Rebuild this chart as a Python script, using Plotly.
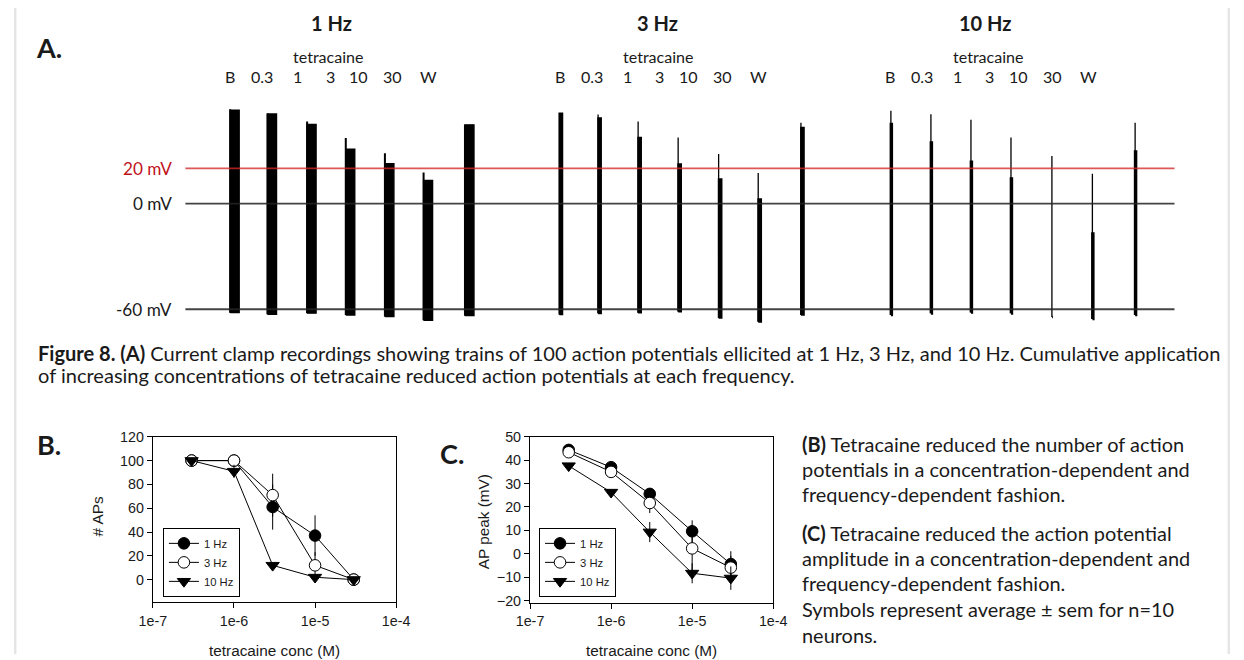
import plotly.graph_objects as go

W, H = 1244, 660
# The returned picture is the page shrunk by S and centred with a thin white margin;
# layout positions below are given in picture pixels and mapped back to page space.
S, OX, OY = 0.978, 13.7, 7.25


def px(x):
    return (x - OX) / S / W


def py(y):
    return 1 - (y - OY) / S / H


def fs(size):
    return size / S


# ---------------- Panel A data (current-clamp trains) ----------------
freq_titles = ["1 Hz", "3 Hz", "10 Hz"]
conc_labels = ["B", "0.3", "1", "3", "10", "30", "W"]
train_duration_s = [100, 100 / 3, 10]          # 100 APs at 1, 3, 10 Hz

start_1hz = [500, 915, 1355, 1785, 2220, 2650, 3110]
start_3hz = [4160, 4590, 5035, 5480, 5930, 6370, 6845]
start_10hz = [7845, 8290, 8735, 9180, 9635, 10085, 10560]

first_peak_1hz = [53.6, 51.1, 46.6, 37.3, 28.6, 17.6, 42.5]
late_peak_1hz = [53.0, 50.9, 45.0, 30.9, 22.7, 13.2, 44.7]
trough_1hz = [-61.9, -62.8, -62.2, -63.2, -64.1, -66.2, -63.6]

first_peak_3hz = [51.5, 50.6, 46.6, 37.5, 28.1, 17.4, 45.9]
late_peak_3hz = [51.3, 48.6, 37.5, 22.4, 13.9, 2.5, 43.2]
trough_3hz = [-62.9, -62.3, -61.9, -61.3, -64.9, -67.1, -63.2]

first_peak_10hz = [52.7, 50.8, 47.6, 37.6, 27.0, 16.9, 45.9]
late_peak_10hz = [45.1, 34.7, 23.7, 14.2, -64.4, -17.0, 29.6]
trough_10hz = [-63.2, -62.3, -61.8, -62.3, -64.4, -65.5, -63.2]

ref_levels_mv = [20, 0, -60]
ref_labels = ["20 mV", "0 mV", "-60 mV"]

# ---------------- Panels B / C data ----------------
conc_M = [3e-7, 1e-6, 3e-6, 1e-5, 3e-5]
series_names = ["1 Hz", "3 Hz", "10 Hz"]

aps_1hz = [100, 100, 61, 37, 0]
aps_3hz = [100, 100, 71, 12, 0]
aps_10hz = [100, 91, 12, 2, 0]
aps_sem_1hz = [0, 0, 19, 17, 0]
aps_sem_3hz = [0, 0, 18, 11, 0]
aps_sem_10hz = [0, 5.5, 2, 1.5, 0]

peak_1hz = [44.4, 37.0, 25.6, 9.6, -4.4]
peak_3hz = [43.4, 35.0, 21.7, 2.3, -5.9]
peak_10hz = [37.6, 26.3, 9.3, -8.3, -10.4]
peak_sem_1hz = [1.0, 1.2, 2.5, 4.7, 5.5]
peak_sem_3hz = [1.0, 1.5, 4.3, 10.0, 5.0]
peak_sem_10hz = [1.0, 1.2, 4.3, 4.3, 5.0]

x_tick_vals = [1e-7, 1e-6, 1e-5, 1e-4]
x_tick_text = ["1e-7", "1e-6", "1e-5", "1e-4"]

caption_lines = [
    "<b>Figure 8. (A)</b> Current clamp recordings showing trains of 100 action potentials ellicited at 1 Hz, 3 Hz, and 10 Hz. Cumulative application",
    "of increasing concentrations of tetracaine reduced action potentials at each frequency.",
]
side_text_lines = [
    "<b>(B)</b> Tetracaine reduced the number of action",
    "potentials in a concentration-dependent and",
    "frequency-dependent fashion.",
    "<b>(C)</b> Tetracaine reduced the action potential",
    "amplitude in a concentration-dependent and",
    "frequency-dependent fashion.",
    "Symbols represent average \u00b1 sem for n=10",
    "neurons.",
]

# ---------------- styles ----------------
TXT_FONT = "Lato"
PLOT_FONT = "Liberation Sans, Arial"
INK = "#1a1a1a"
fig = go.Figure()

# ---- Panel A: sustained part of each train as a filled block, first spike as a thin line ----
groups = [
    (start_1hz, first_peak_1hz, late_peak_1hz, trough_1hz, train_duration_s[0], 1.4, 2.0),
    (start_3hz, first_peak_3hz, late_peak_3hz, trough_3hz, train_duration_s[1], 1.7, 1.3),
    (start_10hz, first_peak_10hz, late_peak_10hz, trough_10hz, train_duration_s[2], 2.6, 1.3),
]
for starts, fp, lp, tr, dur, lw_block, lw_spike in groups:
    bx, by, sx, sy = [], [], [], []
    for t0, a, b, c in zip(starts, fp, lp, tr):
        t1 = t0 + dur
        bx += [t0, t0, t1, t1, t0, None]
        by += [c, b, b, c, c, None]
        sx += [t0, t0, None]
        sy += [c, max(a, b), None]
    fig.add_trace(go.Scatter(
        x=bx, y=by, mode="lines", fill="toself", fillcolor="black",
        line=dict(color="black", width=lw_block), xaxis="x", yaxis="y",
        showlegend=False, hoverinfo="skip"))
    fig.add_trace(go.Scatter(
        x=sx, y=sy, mode="lines", line=dict(color="black", width=lw_spike),
        xaxis="x", yaxis="y", showlegend=False, hoverinfo="skip"))

x_end = 11000
ref_colors = ["rgba(210,40,40,0.78)", "rgba(35,35,35,0.85)", "rgba(35,35,35,0.85)"]
for lvl, col in zip(ref_levels_mv, ref_colors):
    fig.add_trace(go.Scatter(
        x=[0, x_end], y=[lvl, lvl], mode="lines",
        line=dict(color=col, width=1.9), xaxis="x", yaxis="y",
        showlegend=False, hoverinfo="skip"))

# ---- Panels B and C ----
msize = fs(11.3)
marker_styles = [
    dict(symbol="circle", color="black", size=msize, line=dict(color="black", width=1)),
    dict(symbol="circle", color="white", size=msize, line=dict(color="black", width=1)),
    dict(symbol="triangle-down", color="black", size=msize, line=dict(color="black", width=1)),
]
b_series = [aps_1hz, aps_3hz, aps_10hz]
b_sems = [aps_sem_1hz, aps_sem_3hz, aps_sem_10hz]
c_series = [peak_1hz, peak_3hz, peak_10hz]
c_sems = [peak_sem_1hz, peak_sem_3hz, peak_sem_10hz]

for name, vals, sem, mk in zip(series_names, b_series, b_sems, marker_styles):
    fig.add_trace(go.Scatter(
        x=conc_M, y=vals, name=name, mode="lines+markers",
        line=dict(color="black", width=1), marker=mk,
        error_y=dict(type="data", array=sem, color="black", thickness=1, width=0),
        xaxis="x2", yaxis="y2", legend="legend"))
for name, vals, sem, mk in zip(series_names, c_series, c_sems, marker_styles):
    fig.add_trace(go.Scatter(
        x=conc_M, y=vals, name=name, mode="lines+markers",
        line=dict(color="black", width=1), marker=mk,
        error_y=dict(type="data", array=sem, color="black", thickness=1, width=0),
        xaxis="x3", yaxis="y3", legend="legend2"))

# ---------------- annotations ----------------
ann = []
for letter, (lx, ly) in zip(["A.", "B.", "C."], [(49, 47), (49, 443), (452, 452)]):
    ann.append(dict(text=f"<b>{letter}</b>", x=px(lx), y=py(ly), xref="paper", yref="paper",
                    showarrow=False, xanchor="center", yanchor="middle",
                    font=dict(family=TXT_FONT, size=fs(26.5), color=INK)))

group_centers_px = [328.3, 658.3, 988.3]
title_centers_px = [331, 657.7, 985.5]
label_offsets_px = [-98, -66, -31, 1.7, 30, 64, 100.5]
for title, gc, tc in zip(freq_titles, group_centers_px, title_centers_px):
    ann.append(dict(text=f"<b>{title}</b>", x=px(tc), y=py(22), xref="paper", yref="paper",
                    showarrow=False, xanchor="center", yanchor="middle",
                    font=dict(family=TXT_FONT, size=fs(19.6), color=INK)))
    ann.append(dict(text="tetracaine", x=px(gc), y=py(56), xref="paper", yref="paper",
                    showarrow=False, xanchor="center", yanchor="middle",
                    font=dict(family=TXT_FONT, size=fs(15.7), color=INK)))
    for lab, off in zip(conc_labels, label_offsets_px):
        ann.append(dict(text=lab, x=px(gc + off), y=py(76), xref="paper", yref="paper",
                        showarrow=False, xanchor="center", yanchor="middle",
                        font=dict(family=TXT_FONT, size=fs(15.7), color=INK)))

ref_text_colors = ["#c0141c", INK, INK]
for lvl, lab, col in zip(ref_levels_mv, ref_labels, ref_text_colors):
    ann.append(dict(text=lab, x=px(174), y=lvl, xref="paper", yref="y",
                    showarrow=False, xanchor="right", yanchor="middle",
                    font=dict(family=TXT_FONT, size=fs(16.8), color=col)))

caption_y = [352, 374]
for line, yy in zip(caption_lines, caption_y):
    ann.append(dict(text=line, x=px(36), y=py(yy), xref="paper", yref="paper",
                    showarrow=False, xanchor="left", yanchor="middle", align="left",
                    font=dict(family=TXT_FONT, size=fs(19.6), color=INK)))

side_y = [443, 468, 493, 532, 557, 582, 608, 634]
for line, yy in zip(side_text_lines, side_y):
    ann.append(dict(text=line, x=px(800), y=py(yy), xref="paper", yref="paper",
                    showarrow=False, xanchor="left", yanchor="middle", align="left",
                    font=dict(family=TXT_FONT, size=fs(19.5), color=INK)))

ann.append(dict(text="# APs", x=px(97), y=py(515), xref="paper", yref="paper", textangle=-90,
                showarrow=False, xanchor="center", yanchor="middle",
                font=dict(family=PLOT_FONT, size=fs(15), color=INK)))
ann.append(dict(text="AP peak (mV)", x=px(483), y=py(521), xref="paper", yref="paper", textangle=-90,
                showarrow=False, xanchor="center", yanchor="middle",
                font=dict(family=PLOT_FONT, size=fs(15), color=INK)))
for cx in [274.5, 651.5]:
    ann.append(dict(text="tetracaine conc (M)", x=px(cx), y=py(649), xref="paper", yref="paper",
                    showarrow=False, xanchor="center", yanchor="middle",
                    font=dict(family=PLOT_FONT, size=fs(15), color=INK)))

shapes = [
    dict(type="rect", xref="paper", yref="paper", x0=0, x1=max(px(15), 0.002), y0=0, y1=1,
         fillcolor="#e5e5e5", line=dict(width=0), layer="below"),
    dict(type="rect", xref="paper", yref="paper", x0=min(px(1234), 0.998), x1=1, y0=0, y1=1,
         fillcolor="#e5e5e5", line=dict(width=0), layer="below"),
]

common_x = dict(type="log", range=[-7, -4], tickvals=x_tick_vals, ticktext=x_tick_text,
                showgrid=False, zeroline=False, showline=True, linecolor="black", linewidth=1,
                mirror=True, ticks="outside", ticklen=fs(5), tickcolor="black",
                tickfont=dict(family=PLOT_FONT, size=fs(14), color=INK))
common_y = dict(showgrid=False, zeroline=False, showline=True, linecolor="black", linewidth=1,
                mirror=True, ticks="outside", ticklen=fs(5), tickcolor="black",
                tickfont=dict(family=PLOT_FONT, size=fs(14), color=INK))

legend_style = dict(bgcolor="white", bordercolor="black", borderwidth=1,
                    font=dict(family=PLOT_FONT, size=fs(11), color=INK),
                    xanchor="left", yanchor="top", itemwidth=30, tracegroupgap=0)

fig.update_layout(
    width=W, height=H, margin=dict(l=0, r=0, t=0, b=0),
    paper_bgcolor="white", plot_bgcolor="rgba(0,0,0,0)",
    xaxis=dict(domain=[px(185), px(1175)], range=[0, x_end], visible=False),
    yaxis=dict(domain=[py(325.9), py(97.1)], range=[-70, 60], visible=False),
    xaxis2=dict(domain=[px(152.7), px(396)], anchor="y2", **common_x),
    yaxis2=dict(domain=[py(601), py(435.7)], anchor="x2", range=[-19, 120],
                tickvals=[0, 20, 40, 60, 80, 100, 120], **common_y),
    xaxis3=dict(domain=[px(530), px(773.3)], anchor="y3", **common_x),
    yaxis3=dict(domain=[py(601.7), py(435.7)], anchor="x3", range=[-21, 50],
                tickvals=[-20, -10, 0, 10, 20, 30, 40, 50], **common_y),
    legend=dict(x=px(162.7), y=py(526.7), **legend_style),
    legend2=dict(x=px(539), y=py(526.7), **legend_style),
    annotations=ann, shapes=shapes, showlegend=True,
)

fig.write_html("out.html", post_script="document.body.style.margin='0px';",
               config={"displayModeBar": False})
